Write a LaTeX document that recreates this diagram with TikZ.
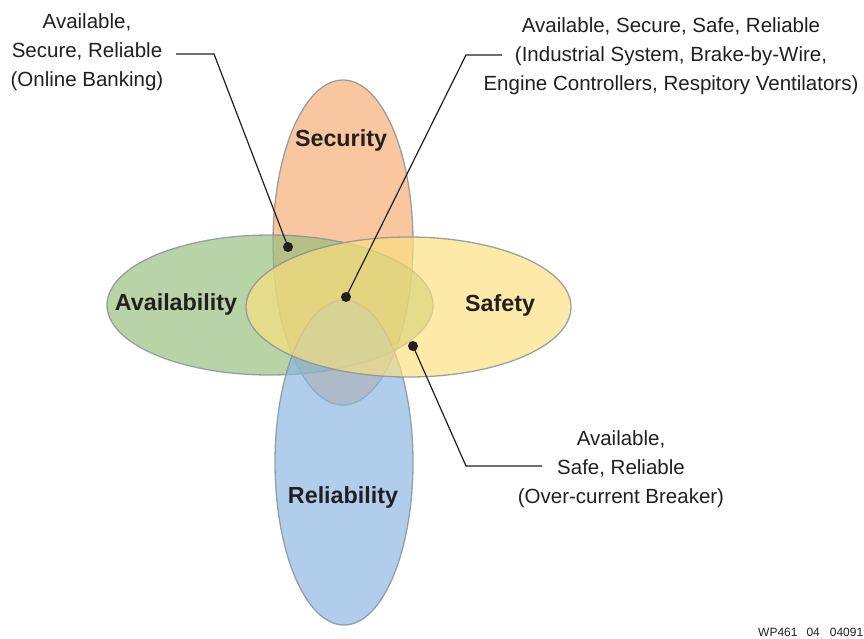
\documentclass[tikz,border=0pt]{standalone}
\usepackage{fontspec}
\setmainfont{Liberation Sans}
\definecolor{txt}{RGB}{35,31,32}
\definecolor{secC}{RGB}{246,169,109}
\definecolor{avaC}{RGB}{146,189,121}
\definecolor{safC}{RGB}{252,224,124}
\definecolor{relC}{RGB}{134,181,226}
\definecolor{edgeC}{RGB}{140,146,152}
\begin{document}
\begin{tikzpicture}[x=1pt,y=-1pt,
  venn/.style={draw=edgeC, line width=1.3pt, fill opacity=0.65, draw opacity=0.85},
  biglabel/.style={font=\fontsize{23.3}{27}\selectfont\bfseries, text=txt},
  callout/.style={font=\fontsize{20.5}{29}\selectfont, align=center, text=txt, inner sep=0pt},
  conn/.style={draw=txt, line width=1.2pt},
  dot/.style={fill=txt}]
\useasboundingbox (0,0) rectangle (864,638);
\fill[white] (0,0) rectangle (864,638);
% ellipses
\draw[venn, fill=secC] (343,242.5) ellipse [x radius=70pt, y radius=162.5pt];
\draw[venn, fill=avaC] (270,305) ellipse [x radius=163pt, y radius=70pt];
\draw[venn, fill=relC] (344,462.5) ellipse [x radius=69pt, y radius=162.5pt];
\draw[venn, fill=safC] (408.5,307) ellipse [x radius=162.5pt, y radius=70pt];
% labels
\node[biglabel] (lsec) at (341,140) {Security};
\node[biglabel] (lava) at (176,304) {Availability};
\node[biglabel] (lsaf) at (500,305) {Safety};
\node[biglabel] (lrel) at (343,497) {Reliability};
% callouts
\node[callout] (tl) at (87,52) {Available,\\Secure, Reliable\\(Online Banking)};
\node[callout] (tr) at (671,56) {Available, Secure, Safe, Reliable\\(Industrial System, Brake-by-Wire,\\Engine Controllers, Respitory Ventilators)};
\node[callout] (br) at (621,469) {Available,\\Safe, Reliable\\(Over-current Breaker)};
% dots and connector points
\coordinate (d1) at (288,247);
\coordinate (d2) at (346,297);
\coordinate (d3) at (413,346);
\coordinate (k1) at (214,54);
\coordinate (e1) at (176,54);
\coordinate (k2) at (466,55);
\coordinate (e2) at (502,55);
\coordinate (k3) at (466,466);
\coordinate (e3) at (542,466);
\draw[conn] (d1) -- (k1) -- (e1);
\draw[conn] (d2) -- (k2) -- (e2);
\draw[conn] (d3) -- (k3) -- (e3);
\fill[dot] (d1) circle (5pt);
\fill[dot] (d2) circle (5pt);
\fill[dot] (d3) circle (5pt);
% id
\node[anchor=base west, inner sep=0pt, font=\fontsize{12}{14}\selectfont, text=txt] (wp) at (758,636) {WP461\hspace{9pt}04\hspace{10pt}04091};
\end{tikzpicture}
\end{document}
